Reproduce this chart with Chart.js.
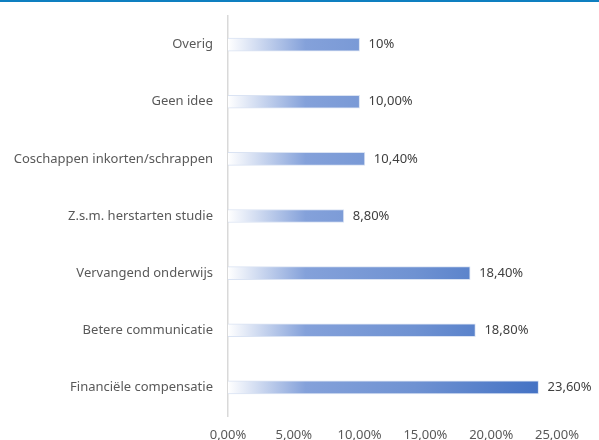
<!DOCTYPE html>
<html>
<head>
<meta charset="utf-8">
<script src="https://cdn.jsdelivr.net/npm/chart.js@4/dist/chart.umd.min.js"></script>
<style>
  html, body { margin: 0; padding: 0; background: #fff; }
  #topline { height: 2px; background: #0e7fc0; }
  #wrap { width: 599px; height: 438px; position: relative; }
</style>
</head>
<body>
<div id="topline"></div>
<div id="wrap"><canvas id="chart"></canvas></div>
<script>
// Categories (top to bottom)
const categories = [
  "Overig",
  "Geen idee",
  "Coschappen inkorten/schrappen",
  "Z.s.m. herstarten studie",
  "Vervangend onderwijs",
  "Betere communicatie",
  "Financiële compensatie"
];
// Percentages
const values = [10, 10, 10.4, 8.8, 18.4, 18.8, 23.6];
// Labels shown next to bars
const valueLabels = ["10%", "10,00%", "10,40%", "8,80%", "18,40%", "18,80%", "23,60%"];
// X axis ticks
const xTicks = [0, 5, 10, 15, 20, 25];

const FONT = "'Noto Sans', sans-serif";

// Gradient fill per bar: white at the axis, blue at the end
const gradientBars = {
  id: "gradientBars",
  beforeDatasetsDraw(chart) {
    const ctx = chart.ctx;
    chart.getDatasetMeta(0).data.forEach(bar => {
      const g = ctx.createLinearGradient(bar.base, 0, bar.x, 0);
      g.addColorStop(0, "#ffffff");
      g.addColorStop(0.25, "#84a1da");
      g.addColorStop(0.6, "#6f92d2");
      g.addColorStop(1, "#4472c4");
      bar.options.backgroundColor = g;
    });
  }
};

// Value labels to the right of each bar
const valueText = {
  id: "valueText",
  afterDatasetsDraw(chart) {
    const ctx = chart.ctx;
    ctx.save();
    ctx.font = "13px " + FONT;
    ctx.fillStyle = "#404040";
    ctx.textAlign = "left";
    ctx.textBaseline = "middle";
    chart.getDatasetMeta(0).data.forEach((bar, i) => {
      ctx.fillText(valueLabels[i], bar.x + 9, bar.y);
    });
    ctx.restore();
  }
};

new Chart(document.getElementById("chart"), {
  type: "bar",
  data: {
    labels: categories,
    datasets: [{
      data: values,
      backgroundColor: "#4472c4",
      borderColor: "rgba(214,224,242,0.9)",
      borderWidth: 1,
      barThickness: 13
    }]
  },
  options: {
    indexAxis: "y",
    responsive: true,
    maintainAspectRatio: false,
    animation: false,
    layout: { padding: { top: 14, right: 42, left: 0, bottom: 0 } },
    plugins: { legend: { display: false }, tooltip: { enabled: false } },
    scales: {
      x: {
        min: 0,
        max: 25,
        afterBuildTicks: s => { s.ticks = xTicks.map(v => ({ value: v })); },
        grid: { display: false, drawTicks: false },
        border: { display: false },
        ticks: {
          padding: 11,
          color: "#595959",
          font: { family: FONT, size: 13 },
          callback: v => v.toFixed(2).replace(".", ",") + "%"
        },
        afterFit: s => { s.height = 24; }
      },
      y: {
        grid: { display: false, drawTicks: false },
        border: { display: true, color: "#d9d9d9", width: 1.5 },
        ticks: {
          padding: 15,
          color: "#595959",
          font: { family: FONT, size: 13 }
        },
        afterFit: s => { s.width = 228; s.paddingTop = 0; s.paddingBottom = 0; }
      }
    }
  },
  plugins: [gradientBars, valueText]
});
</script>
</body>
</html>
